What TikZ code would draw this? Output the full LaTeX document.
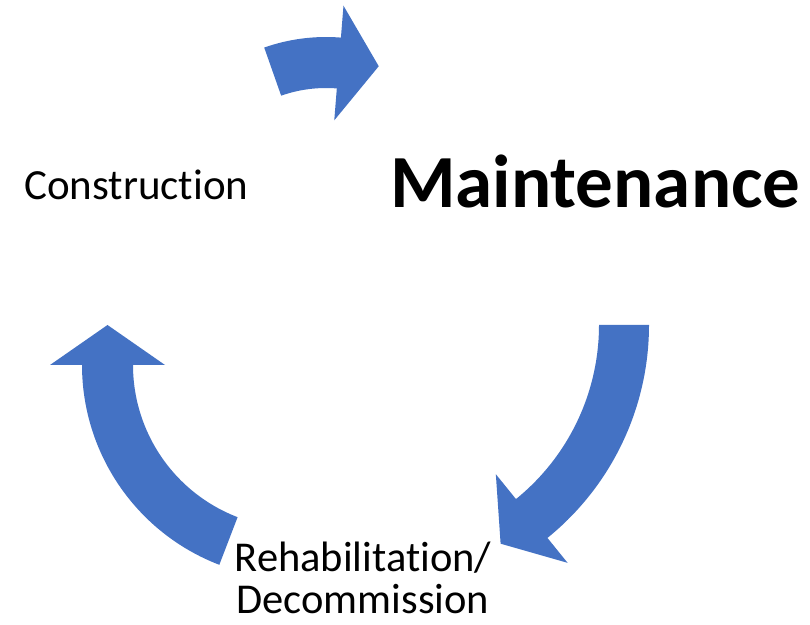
\documentclass[tikz,border=0pt]{standalone}
\usepackage{fontspec}
\setmainfont{Carlito}[Ligatures=NoCommon]
\usetikzlibrary{calc}
\definecolor{cycleblue}{HTML}{4472C4}
% curved block arrow: centre x, centre y, inner radius, outer radius, tail angle, head angle
\newcommand{\cyclearrow}[6]{%
  \fill[cycleblue]
    ($(#1,#2)+(#5:#4)$) arc[start angle=#5, end angle=#6, radius=#4]
    -- ($(#1,#2)+(#6:{#4+32})$)
    -- ($(#1,#2)+(#6:{(#3+#4)/2})+({#6-90}:40)$)
    -- ($(#1,#2)+(#6:{#3-32})$)
    -- ($(#1,#2)+(#6:#3)$)
    arc[start angle=#6, end angle=#5, radius=#3] -- cycle;}
\tikzset{
  phase/.style={inner sep=0pt, text=black, font=\fontsize{43}{44}\selectfont},
}
\begin{document}
\begin{tikzpicture}[x=1pt, y=1pt]
  \fill[white] (0,0) rectangle (810,624);
  \useasboundingbox (0,0) rectangle (810,624);

  % arrows of the cycle
  \cyclearrow{326}{401}{135}{186}{109.4}{85.4}
  \cyclearrow{375}{299}{224}{274}{0}{-51}
  \cyclearrow{296}{259}{163}{214}{249}{180}

  % phases
  \node[phase, anchor=base west] (construction) at (24,424) {Construction};
  \node[phase, anchor=base west, font=\fontsize{75}{78}\selectfont\bfseries] (maintenance) at (390,416) {Maintenance};
  \node[phase, anchor=base, align=center, font=\fontsize{42.5}{42}\selectfont] (rehab) at (363,11) {Rehabilitation/\\Decommission};
\end{tikzpicture}
\end{document}
